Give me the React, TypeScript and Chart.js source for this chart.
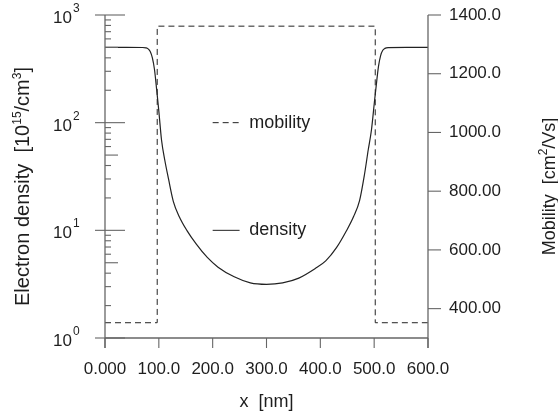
import React, { useEffect, useRef } from 'react';
import { Chart, registerables } from 'chart.js';

Chart.register(...registerables);

// ---- data ----
const DENSITY_X = [0, 40, 70, 76, 80, 84, 88, 92, 96, 100, 105, 111, 118, 127, 138, 152, 170, 190, 210, 240, 270, 300, 330, 360, 390, 410, 430, 448, 462, 473, 482, 489, 495, 501, 505, 508, 512, 516, 520, 526, 560, 600];
const DENSITY_Y = [500, 500, 499, 495, 485, 458, 400, 310, 202, 128, 69, 45, 30, 18.5, 13.4, 10, 7.4, 5.6, 4.55, 3.7, 3.25, 3.15, 3.25, 3.6, 4.4, 5.2, 6.9, 9.8, 13.5, 19, 33, 56, 86, 165, 250, 333, 420, 470, 490, 498, 500, 500];
const MOBILITY_X = [0, 97, 97, 502, 502, 600];
const MOBILITY_Y = [352, 352, 1362, 1362, 352, 352];
const X_TICKS = [0, 100, 200, 300, 400, 500, 600];
const Y2_TICKS = [400, 600, 800, 1000, 1200, 1400];
const DECADES = [0, 1, 2, 3];
const LEGEND_LABELS = ['mobility', 'density'];

const FONT = '"Liberation Sans", Arial, Helvetica, sans-serif';
const TEXT_COLOR = '#1e1e1e';
const AXIS_COLOR = '#666666';
const LINE_COLOR = '#222222';

type Run = { t: string; sup?: boolean };

function runsWidth(ctx: CanvasRenderingContext2D, runs: Run[], size: number, supSize: number) {
  let w = 0;
  for (const r of runs) {
    ctx.font = `${r.sup ? supSize : size}px ${FONT}`;
    w += ctx.measureText(r.t).width;
  }
  return w;
}

function drawRuns(ctx: CanvasRenderingContext2D, runs: Run[], x: number, y: number, size: number, supSize: number, rise: number) {
  let cx = x;
  for (const r of runs) {
    ctx.font = `${r.sup ? supSize : size}px ${FONT}`;
    ctx.fillText(r.t, cx, r.sup ? y - rise : y);
    cx += ctx.measureText(r.t).width;
  }
}

const customPlugin = {
  id: 'customAxes',
  afterDraw(chart: any) {
    const { ctx, chartArea: ca } = chart;
    const xs = chart.scales.x;
    const ys = chart.scales.y;
    const y2 = chart.scales.y2;
    ctx.save();
    const seg = (a: number, b: number, c: number, d: number) => {
      ctx.beginPath();
      ctx.moveTo(a, b);
      ctx.lineTo(c, d);
      ctx.stroke();
    };
    ctx.strokeStyle = AXIS_COLOR;
    ctx.lineWidth = 1.3;
    seg(ca.left, ca.top, ca.left, ca.bottom + 10);
    seg(ca.left, ca.bottom, ca.right, ca.bottom);
    seg(ca.right, ca.top, ca.right, ca.bottom + 10);

    ctx.lineWidth = 1.1;
    for (const v of X_TICKS) {
      const px = xs.getPixelForValue(v);
      seg(px, ca.bottom, px, ca.bottom + 10);
    }
    for (const d of DECADES) {
      const y = ys.getPixelForValue(Math.pow(10, d));
      seg(ca.left - 10, y, ca.left + 20, y);
      if (d < 3) {
        for (let k = 2; k <= 9; k++) {
          const yy = ys.getPixelForValue(k * Math.pow(10, d));
          seg(ca.left, yy, ca.left + (k === 5 ? 13 : 6), yy);
        }
      }
    }
    for (const v of Y2_TICKS) {
      const y = y2.getPixelForValue(v);
      seg(ca.right, y, ca.right + 13, y);
    }

    // left tick labels 10^n
    ctx.fillStyle = TEXT_COLOR;
    ctx.textBaseline = 'alphabetic';
    for (const d of DECADES) {
      const y = ys.getPixelForValue(Math.pow(10, d));
      ctx.font = `17px ${FONT}`;
      ctx.textAlign = 'right';
      ctx.fillText('10', ca.left - 33, y + 8);
      ctx.font = `12px ${FONT}`;
      ctx.textAlign = 'left';
      ctx.fillText(String(d), ca.left - 32, y - 3);
    }

    // axis titles (rotated)
    ctx.textAlign = 'left';
    const leftRuns: Run[] = [
      { t: 'Electron density  [10' }, { t: '15', sup: true }, { t: '/cm' }, { t: '3', sup: true }, { t: ']' },
    ];
    const rightRuns: Run[] = [
      { t: 'Mobility  [cm' }, { t: '2', sup: true }, { t: '/Vs]' },
    ];
    const midY = (ca.top + ca.bottom) / 2 + 10;
    [[leftRuns, 22, 20], [rightRuns, 548, 18]].forEach(([runs, cx, fs]: any) => {
      const w = runsWidth(ctx, runs, fs, 12);
      ctx.save();
      ctx.translate(cx, midY);
      ctx.rotate(-Math.PI / 2);
      drawRuns(ctx, runs, -w / 2, 7, fs, 12, 8);
      ctx.restore();
    });

    // legend
    const lx1 = xs.getPixelForValue(200);
    const lx2 = xs.getPixelForValue(250);
    const tx = xs.getPixelForValue(268);
    const ly = [ys.getPixelForValue(100), ys.getPixelForValue(10)];
    ctx.strokeStyle = LINE_COLOR;
    ctx.lineWidth = 1;
    ctx.setLineDash([6, 4]);
    seg(lx1, ly[0], lx2, ly[0]);
    ctx.setLineDash([]);
    seg(lx1, ly[1], lx2, ly[1]);
    ctx.font = `18px ${FONT}`;
    ctx.textBaseline = 'middle';
    ctx.fillStyle = TEXT_COLOR;
    ctx.fillText(LEGEND_LABELS[0], tx, ly[0]);
    ctx.fillText(LEGEND_LABELS[1], tx, ly[1]);
    ctx.restore();
  },
};

export default function App() {
  const ref = useRef<HTMLCanvasElement | null>(null);
  useEffect(() => {
    if (!ref.current) return;
    const chart = new Chart(ref.current, {
      type: 'line',
      data: {
        datasets: [
          {
            label: 'density',
            data: DENSITY_X.map((x, i) => ({ x, y: DENSITY_Y[i] })),
            yAxisID: 'y',
            borderColor: LINE_COLOR,
            borderWidth: 1.2,
            pointRadius: 0,
            cubicInterpolationMode: 'monotone',
            fill: false,
          },
          {
            label: 'mobility',
            data: MOBILITY_X.map((x, i) => ({ x, y: MOBILITY_Y[i] })),
            yAxisID: 'y2',
            borderColor: LINE_COLOR,
            borderWidth: 1,
            borderDash: [6, 4],
            pointRadius: 0,
            tension: 0,
            fill: false,
          },
        ],
      },
      options: {
        animation: false,
        responsive: false,
        devicePixelRatio: 1,
        layout: { padding: { top: 15, left: 0, right: 0, bottom: 0 } },
        plugins: { legend: { display: false }, tooltip: { enabled: false } },
        scales: {
          x: {
            type: 'linear',
            min: 0,
            max: 600,
            afterBuildTicks: (s: any) => { s.ticks = X_TICKS.map((v) => ({ value: v })); },
            afterFit: (s: any) => { s.height = 79; s.paddingLeft = 0; s.paddingRight = 0; s.paddingTop = 0; s.paddingBottom = 0; },
            grid: { display: false, drawTicks: false, tickLength: 0 },
            border: { display: false },
            ticks: {
              autoSkip: false,
              maxRotation: 0,
              padding: 21,
              color: TEXT_COLOR,
              font: { size: 17, family: FONT },
              callback: (v: any) => Number(v).toPrecision(4),
            },
            title: {
              display: true,
              text: 'x  [nm]',
              color: TEXT_COLOR,
              font: { size: 18, family: FONT },
              padding: { top: 4, bottom: 4 },
            },
          },
          y: {
            type: 'logarithmic',
            position: 'left',
            min: 1,
            max: 1000,
            afterFit: (s: any) => { s.width = 105; s.paddingTop = 0; s.paddingBottom = 0; s.paddingLeft = 0; s.paddingRight = 0; },
            grid: { display: false, drawTicks: false, tickLength: 0 },
            border: { display: false },
            ticks: { display: false },
          },
          y2: {
            type: 'linear',
            position: 'right',
            min: 300,
            max: 1400,
            afterBuildTicks: (s: any) => { s.ticks = Y2_TICKS.map((v) => ({ value: v })); },
            afterFit: (s: any) => { s.width = 130; s.paddingTop = 0; s.paddingBottom = 0; s.paddingLeft = 0; s.paddingRight = 0; },
            grid: { display: false, drawTicks: false, tickLength: 0 },
            border: { display: false },
            ticks: {
              padding: 21,
              color: TEXT_COLOR,
              font: { size: 17, family: FONT },
              callback: (v: any) => Number(v).toPrecision(5),
            },
          },
        },
      },
      plugins: [customPlugin],
    } as any);
    return () => chart.destroy();
  }, []);
  return (
    <div style={{ position: 'absolute', left: 0, top: 0, width: 558, height: 417, background: '#fff' }}>
      <canvas ref={ref} width={558} height={417} style={{ display: 'block' }} />
    </div>
  );
}
